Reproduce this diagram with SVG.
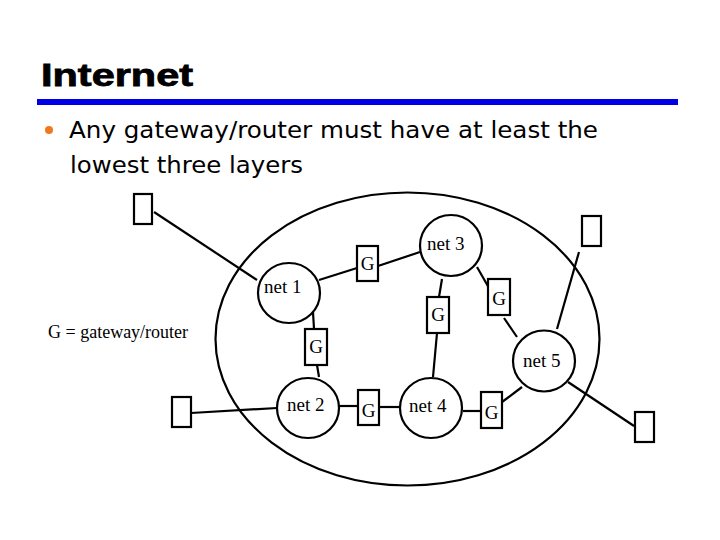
<svg xmlns="http://www.w3.org/2000/svg" width="720" height="540" viewBox="0 0 720 540">
<style>
.ln{stroke:#000;stroke-width:2.2;fill:none}
.net{stroke:#000;stroke-width:2.2;fill:#fff}
.box{stroke:#000;stroke-width:2.2;fill:#fff}
.lbl{font-family:"Liberation Serif","Times New Roman",serif;font-size:19px;fill:#000}
.g{font-family:"Liberation Serif","Times New Roman",serif;font-size:19px;fill:#000;text-anchor:middle}
.bt{font-family:"DejaVu Sans Condensed","DejaVu Sans",Tahoma,sans-serif;font-size:23px;fill:#000}
</style>
<rect width="720" height="540" fill="#fff"/>
<g id="title">
<text x="41" y="86" font-family="'Liberation Sans',Arial,sans-serif" font-weight="bold" font-size="31" stroke="#000" stroke-width="0.8" textLength="152" lengthAdjust="spacingAndGlyphs">Internet</text>
<rect x="37" y="99" width="641" height="6" fill="#0000E6"/>
</g>
<g id="bullet">
<circle cx="49" cy="130" r="4" fill="#F07820"/>
<text class="bt" x="69" y="138" textLength="529" lengthAdjust="spacingAndGlyphs">Any gateway/router must have at least the</text>
<text class="bt" x="70" y="173" textLength="233" lengthAdjust="spacingAndGlyphs">lowest three layers</text>
</g>
<g id="legend">
<text x="48" y="338" font-family="'Liberation Serif','Times New Roman',serif" font-size="18">G = gateway/router</text>
</g>
<g id="internet">
<ellipse cx="407.5" cy="339" rx="192" ry="146.5" class="ln"/>
</g>
<g id="connectors">
<line class="ln" x1="154" y1="212" x2="257" y2="280"/>
<line class="ln" x1="319" y1="280" x2="357" y2="268"/>
<line class="ln" x1="378" y1="266" x2="420" y2="252"/>
<line class="ln" x1="442" y1="279" x2="439" y2="297"/>
<line class="ln" x1="437" y1="333" x2="433" y2="377"/>
<line class="ln" x1="477" y1="267" x2="489" y2="288"/>
<line class="ln" x1="504" y1="318" x2="517" y2="337"/>
<line class="ln" x1="579" y1="252" x2="557" y2="329"/>
<line class="ln" x1="313" y1="312" x2="314" y2="329"/>
<line class="ln" x1="317" y1="365" x2="319" y2="377"/>
<line class="ln" x1="191" y1="413" x2="277" y2="408"/>
<line class="ln" x1="339" y1="406" x2="358" y2="406"/>
<line class="ln" x1="379" y1="407" x2="400" y2="407"/>
<line class="ln" x1="463" y1="411" x2="481" y2="411"/>
<line class="ln" x1="502" y1="402" x2="522" y2="387"/>
<line class="ln" x1="568" y1="382" x2="634" y2="426"/>
</g>
<g id="host1"><rect class="box" x="134" y="194" width="18" height="30"/></g>
<g id="host2"><rect class="box" x="582" y="216" width="19" height="30"/></g>
<g id="host3"><rect class="box" x="172" y="397" width="19" height="30"/></g>
<g id="host4"><rect class="box" x="635" y="412" width="19" height="30"/></g>
<g id="net1"><ellipse class="net" cx="289" cy="293" rx="31" ry="30"/><text class="lbl" x="264" y="293">net 1</text></g>
<g id="net2"><ellipse class="net" cx="308" cy="408" rx="31" ry="30"/><text class="lbl" x="287" y="411">net 2</text></g>
<g id="net3"><ellipse class="net" cx="451" cy="245.5" rx="31" ry="30.5"/><text class="lbl" x="427" y="250">net 3</text></g>
<g id="net4"><ellipse class="net" cx="431" cy="408" rx="31" ry="30"/><text class="lbl" x="409" y="412">net 4</text></g>
<g id="net5"><ellipse class="net" cx="544" cy="361" rx="31" ry="30.5"/><text class="lbl" x="523" y="367">net 5</text></g>
<g id="g1"><rect class="box" x="357" y="246" width="21" height="35"/><text class="g" x="367.5" y="270">G</text></g>
<g id="g2"><rect class="box" x="427" y="297" width="22" height="36"/><text class="g" x="438" y="321">G</text></g>
<g id="g3"><rect class="box" x="488" y="279" width="22" height="36"/><text class="g" x="499" y="305">G</text></g>
<g id="g4"><rect class="box" x="305" y="329" width="22" height="36"/><text class="g" x="316" y="353">G</text></g>
<g id="g5"><rect class="box" x="358" y="390" width="21" height="35"/><text class="g" x="368.5" y="417">G</text></g>
<g id="g6"><rect class="box" x="481" y="392" width="21" height="36"/><text class="g" x="491.5" y="419">G</text></g>
</svg>
